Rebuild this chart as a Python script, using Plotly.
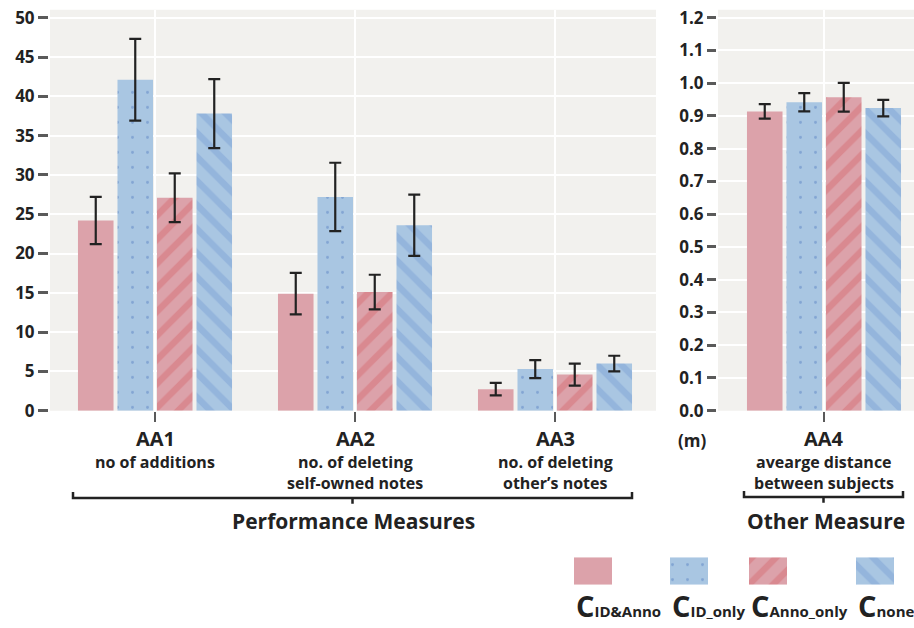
import plotly.graph_objects as go

W, H = 914, 628
FONT = "Open Sans"
INK = "#222222"
TICK = "#5a5a5a"
PANEL_BG = "#f2f1ee"
PINK = "#dca2aa"
BLUE = "#a9c6e2"
RED_STRIPE = "#d66f76"
BLUE_STRIPE = "#7fa3d6"
DOT = "#5b84c4"

# ---- data -------------------------------------------------------------
perf_measures = ["AA1", "AA2", "AA3"]
perf_desc = [["no of additions"],
             ["no. of deleting", "self-owned notes"],
             ["no. of deleting", "other\u2019s notes"]]
other_measures = ["AA4"]
other_desc = [["avearge distance", "between subjects"]]

cond_names = ["C_ID&Anno", "C_ID_only", "C_Anno_only", "C_none"]
cond_subs = ["ID&amp;Anno", "ID_only", "Anno_only", "none"]

# performance measures (counts), mean and error per condition
id_anno_perf = [24.2, 14.9, 2.75]
id_anno_perf_err = [3.0, 2.65, 0.8]
id_only_perf = [42.1, 27.2, 5.3]
id_only_perf_err = [5.2, 4.35, 1.15]
anno_only_perf = [27.1, 15.1, 4.6]
anno_only_perf_err = [3.1, 2.2, 1.4]
none_perf = [37.8, 23.6, 6.0]
none_perf_err = [4.4, 3.9, 1.0]

# other measure: average distance (m), one value per condition
dist_mean = [0.914, 0.942, 0.957, 0.924]
dist_err = [0.022, 0.028, 0.044, 0.025]

perf_means = [id_anno_perf, id_only_perf, anno_only_perf, none_perf]
perf_errs = [id_anno_perf_err, id_only_perf_err, anno_only_perf_err, none_perf_err]

# ---- styling per condition -------------------------------------------
fills = [
    dict(color=PINK),
    dict(color=BLUE, pattern=dict(shape=".", fgcolor=DOT, bgcolor=BLUE,
                                  size=15, solidity=0.03)),
    dict(color=PINK, pattern=dict(shape="/", fgcolor=RED_STRIPE, bgcolor=PINK,
                                  size=17, solidity=0.38)),
    dict(color=BLUE, pattern=dict(shape="\\", fgcolor=BLUE_STRIPE, bgcolor=BLUE,
                                  size=17, solidity=0.38)),
]


def px(x):
    return x / W


def py(y):
    return 1 - y / H


def err(arr):
    return dict(type="data", array=arr, color=INK, thickness=2.2, width=6)


fig = go.Figure()

for name, m, e, f in zip(cond_names, perf_means, perf_errs, fills):
    fig.add_trace(go.Bar(x=perf_measures, y=m, error_y=err(e), name=name,
                         marker=dict(line=dict(width=0), **f),
                         xaxis="x", yaxis="y"))

for i, (name, f) in enumerate(zip(cond_names, fills)):
    fig.add_trace(go.Bar(x=other_measures, y=[dist_mean[i]],
                         error_y=err([dist_err[i]]), name=name,
                         marker=dict(line=dict(width=0), **f),
                         xaxis="x2", yaxis="y2"))

# legend keys drawn as small bars on their own hidden axis (1 unit = 1 px)
key_x = [593, 689, 768, 875]
key_w = 38
for name, kx, f in zip(cond_names, key_x, fills):
    fig.add_trace(go.Bar(x=[kx], y=[1], width=key_w, offsetgroup="key",
                         name=name, marker=dict(line=dict(width=0), **f),
                         xaxis="x3", yaxis="y3", hoverinfo="skip"))

plot_top, plot_bottom = 6, 416.7
ydom = [py(plot_bottom), py(plot_top)]

xcommon = dict(showgrid=True, gridcolor="white", gridwidth=2,
               ticks="outside", ticklen=10, tickwidth=2, tickcolor=TICK,
               showticklabels=False, zeroline=False, showline=False,
               fixedrange=True)
ycommon = dict(showgrid=True, gridcolor="white", gridwidth=2,
               ticks="outside", tickwidth=2.5, tickcolor=TICK,
               tickfont=dict(family=FONT, size=17, color=INK, weight="bold"),
               zeroline=False, showline=False, anchor="free", domain=ydom)

fig.update_layout(
    width=W, height=H, margin=dict(l=0, r=0, t=0, b=0),
    paper_bgcolor="white", plot_bgcolor="rgba(0,0,0,0)",
    barmode="group", bargap=0.21, bargroupgap=0.1, showlegend=False,
    font=dict(family=FONT, color=INK),
    xaxis=dict(domain=[px(50), px(656)], range=[-0.525, 2.505],
               anchor="y", **xcommon),
    yaxis=dict(range=[0, 51], tick0=0, dtick=5, position=px(48), ticklen=10,
               **ycommon),
    xaxis2=dict(domain=[px(718), 1], range=[-0.53, 0.45], anchor="y2",
                **xcommon),
    yaxis2=dict(range=[0, 1.224], tick0=0, dtick=0.1, tickformat=".1f",
                position=px(716), ticklen=9, **ycommon),
    xaxis3=dict(domain=[px(560), 1], range=[560, 914], visible=False,
                anchor="y3"),
    yaxis3=dict(domain=[py(595), py(566.7)], range=[0, 1], visible=False,
                anchor="x3"),
)

# panel backgrounds (below the white grid)
for xr, yr in (("x domain", "y domain"), ("x2 domain", "y2 domain")):
    fig.add_shape(type="rect", xref=xr, yref=yr, x0=0, x1=1, y0=0, y1=1,
                  fillcolor=PANEL_BG, line=dict(width=0), layer="below")


def text(x, y, s, size, weight="bold", xref="paper", xanchor="center"):
    fig.add_annotation(x=x, y=py(y), xref=xref, yref="paper", text=s,
                       showarrow=False, xanchor=xanchor, yanchor="middle",
                       borderpad=0,
                       font=dict(family=FONT, size=size, color=INK,
                                 weight=weight))


line_y = [469, 491]
for m, desc in zip(perf_measures, perf_desc):
    text(m, 445, m, 20, xref="x")
    for ly, d in zip(line_y, desc):
        text(m, ly, d, 16, xref="x")
for m, desc in zip(other_measures, other_desc):
    text(m, 445, m, 20, xref="x2")
    for ly, d in zip(line_y, desc):
        text(m, ly, d, 16, xref="x2")

text(px(692), 447, "(m)", 17)
text(px(353), 530, "Performance Measures", 21)
text(px(826), 530, "Other Measure", 21)


def bracket(x0, x1, y):
    xm = (x0 + x1) / 2
    path = (f"M {px(x0)},{py(y - 6)} L {px(x0)},{py(y)} L {px(x1)},{py(y)} "
            f"L {px(x1)},{py(y - 6)} M {px(xm)},{py(y)} L {px(xm)},{py(y + 6)}")
    fig.add_shape(type="path", xref="paper", yref="paper", path=path,
                  line=dict(color=INK, width=2.5))


bracket(73, 632, 506)
bracket(744, 903, 505)

# legend captions: large C with a smaller label on the same baseline
for kx, sub in zip(key_x, cond_subs):
    fig.add_annotation(
        x=px(kx - key_w / 2 + 1), y=py(616), xref="paper", yref="paper",
        xanchor="left", yanchor="middle", showarrow=False, borderpad=0,
        text=(f"<b><span style='font-size:29px'>C</span>"
              f"<span style='font-size:15px'>{sub}</span></b>"),
        font=dict(family=FONT, size=15, color=INK))

fig.write_html("out.html")
